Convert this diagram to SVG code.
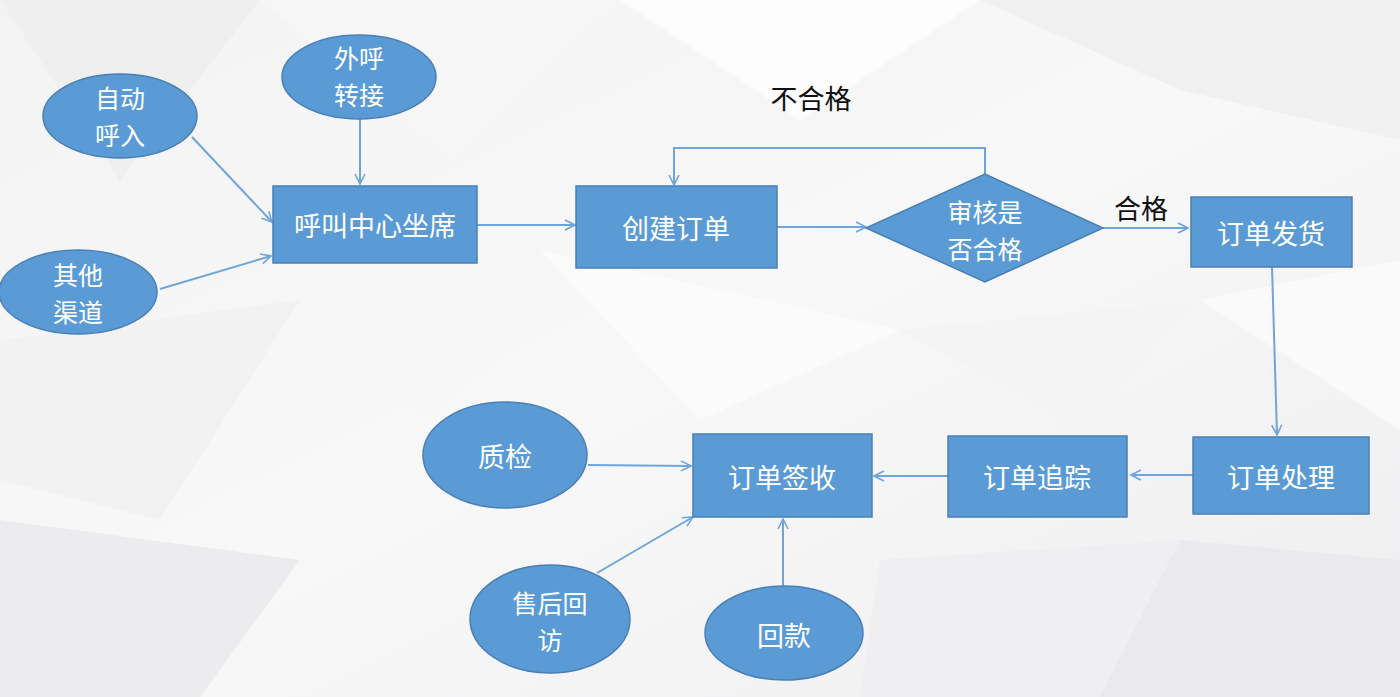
<svg xmlns="http://www.w3.org/2000/svg" width="1400" height="697" viewBox="0 0 1400 697">
<defs>
<marker id="arr" viewBox="0 0 12 12" refX="11" refY="6" markerWidth="12" markerHeight="12" markerUnits="userSpaceOnUse" orient="auto">
<path d="M1,1 L11,6 L1,11" fill="none" stroke="#6fa5da" stroke-width="1.6"/>
</marker>
<linearGradient id="bg" x1="0" y1="0" x2="1" y2="1">
<stop offset="0" stop-color="#f3f3f4"/>
<stop offset="0.5" stop-color="#f8f8f9"/>
<stop offset="1" stop-color="#eeeef0"/>
</linearGradient>
</defs>
<style>
.node{fill:#5b9bd5;stroke:#4a7fb5;stroke-width:1.5}
.t{font-family:"Noto Sans CJK SC","Noto Sans",sans-serif;font-size:27px;fill:#ffffff;text-anchor:middle;dominant-baseline:central}
.t2{font-family:"Noto Sans CJK SC","Noto Sans",sans-serif;font-size:25px;fill:#ffffff;text-anchor:middle;dominant-baseline:central}
.lbl{font-family:"Noto Sans CJK SC","Noto Sans",sans-serif;font-size:27px;fill:#111111;text-anchor:middle;dominant-baseline:central}
.c{fill:none;stroke:#6fa5da;stroke-width:2;marker-end:url(#arr)}
.poly{stroke:none}
</style>
<g id="background">
<rect x="0" y="0" width="1400" height="697" fill="url(#bg)"/>
<polygon class="poly" points="0,0 260,0 120,180" fill="#efeff0"/>
<polygon class="poly" points="260,0 620,0 450,160" fill="#f6f6f7"/>
<polygon class="poly" points="620,0 980,0 800,120" fill="#ffffff" opacity="0.7"/>
<polygon class="poly" points="980,0 1400,0 1400,140 1180,90" fill="#f0f0f1"/>
<polygon class="poly" points="0,340 300,300 160,520 0,480" fill="#f2f2f3"/>
<polygon class="poly" points="540,250 900,330 700,420" fill="#fbfbfb"/>
<polygon class="poly" points="900,330 1200,300 1080,430" fill="#f4f4f5"/>
<polygon class="poly" points="1200,300 1400,260 1400,430" fill="#fafafa"/>
<polygon class="poly" points="0,520 300,560 200,697 0,697" fill="#ececee"/>
<polygon class="poly" points="880,560 1180,540 1100,697 860,697" fill="#efeff1"/>
<polygon class="poly" points="1180,540 1400,560 1400,697 1100,697" fill="#eaeaec"/>
<polygon class="poly" points="300,330 560,300 430,420" fill="#f7f7f8"/>
</g>
<g id="connectors">
<line class="c" x1="192" y1="137" x2="272" y2="222"/>
<line class="c" x1="360" y1="118" x2="360" y2="184"/>
<line class="c" x1="160" y1="289" x2="271" y2="256"/>
<line class="c" x1="477" y1="225" x2="575" y2="225"/>
<line class="c" x1="777" y1="227" x2="866" y2="227"/>
<polyline class="c" points="985,174 985,148 674,148 674,185"/>
<line class="c" x1="1103" y1="228" x2="1188" y2="228"/>
<line class="c" x1="1272" y1="267" x2="1277" y2="435"/>
<line class="c" x1="1193" y1="475" x2="1131" y2="475"/>
<line class="c" x1="948" y1="476" x2="874" y2="476"/>
<line class="c" x1="588" y1="465" x2="691" y2="466"/>
<line class="c" x1="597" y1="573" x2="693" y2="517"/>
<line class="c" x1="783" y1="587" x2="783" y2="519"/>
</g>
<g id="n-zidong">
<ellipse class="node" cx="120" cy="116" rx="77" ry="42"/>
<text class="t2" x="120" y="97">自动<tspan x="120" dy="37">呼入</tspan></text>
</g>
<g id="n-waihu">
<ellipse class="node" cx="359" cy="77" rx="77" ry="42"/>
<text class="t2" x="359" y="57">外呼<tspan x="359" dy="37">转接</tspan></text>
</g>
<g id="n-qita">
<ellipse class="node" cx="78" cy="292" rx="79" ry="42"/>
<text class="t2" x="78" y="274">其他<tspan x="78" dy="37">渠道</tspan></text>
</g>
<g id="n-hujiao">
<rect class="node" x="273" y="186" width="204" height="77"/>
<text class="t" x="375" y="224">呼叫中心坐席</text>
</g>
<g id="n-chuangjian">
<rect class="node" x="576" y="186" width="201" height="82"/>
<text class="t" x="676" y="227">创建订单</text>
</g>
<g id="n-shenhe">
<polygon class="node" points="866,228 985,174 1103,228 985,282"/>
<text class="t2" x="985" y="211">审核是<tspan x="985" dy="37">否合格</tspan></text>
</g>
<g id="n-fahuo">
<rect class="node" x="1191" y="197" width="161" height="70"/>
<text class="t" x="1271" y="232">订单发货</text>
</g>
<g id="n-chuli">
<rect class="node" x="1193" y="437" width="176" height="77"/>
<text class="t" x="1281" y="476">订单处理</text>
</g>
<g id="n-zhuizong">
<rect class="node" x="948" y="436" width="179" height="81"/>
<text class="t" x="1037" y="476">订单追踪</text>
</g>
<g id="n-qianshou">
<rect class="node" x="693" y="434" width="179" height="83"/>
<text class="t" x="782" y="476">订单签收</text>
</g>
<g id="n-zhijian">
<ellipse class="node" cx="505" cy="455" rx="82" ry="53"/>
<text class="t" x="505" y="455">质检</text>
</g>
<g id="n-shouhou">
<ellipse class="node" cx="550" cy="619" rx="80" ry="54"/>
<text class="t2" x="550" y="602">售后回<tspan x="550" dy="37">访</tspan></text>
</g>
<g id="n-huikuan">
<ellipse class="node" cx="784" cy="633" rx="79" ry="47"/>
<text class="t" x="784" y="634">回款</text>
</g>
<g id="labels">
<text class="lbl" x="811" y="97">不合格</text>
<text class="lbl" x="1141" y="207">合格</text>
</g>
</svg>
